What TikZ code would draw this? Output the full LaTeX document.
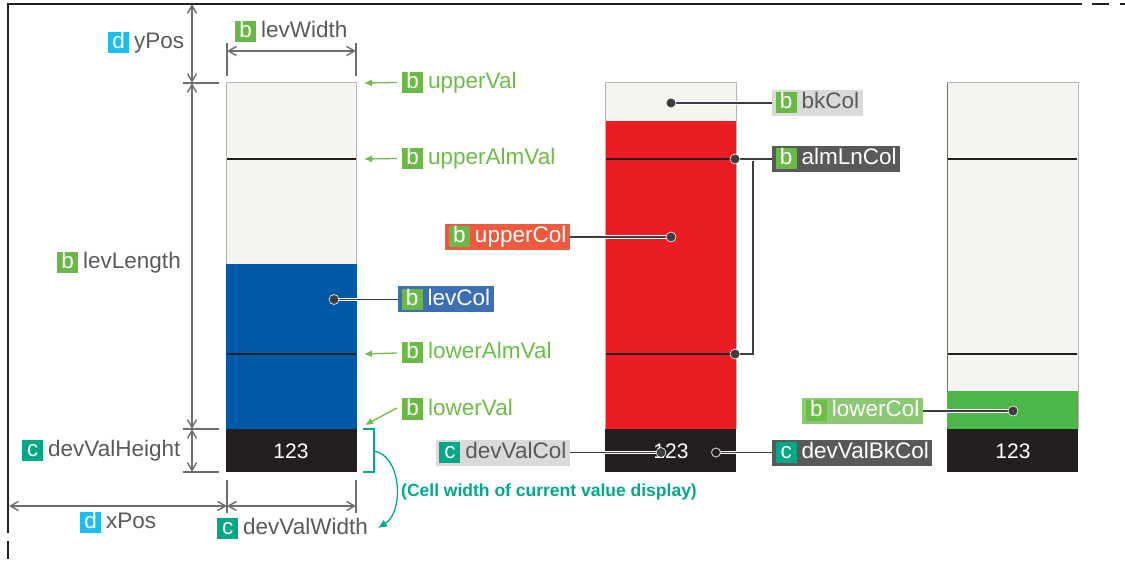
\documentclass[tikz,border=0pt]{standalone}
\usepackage{fontspec}
\setmainfont{Liberation Sans}
\usetikzlibrary{arrows.meta}
\definecolor{bgrn}{HTML}{6AB845}
\definecolor{cteal}{HTML}{00A886}
\definecolor{dcyan}{HTML}{1EBDEE}
\definecolor{txtgray}{HTML}{58595B}
\definecolor{dimgray}{HTML}{6D6E71}
\definecolor{lightbg}{HTML}{F4F5F0}
\definecolor{cellblk}{HTML}{231F20}
\definecolor{barblue}{HTML}{0058A8}
\definecolor{boxblue}{HTML}{3D6FB5}
\definecolor{barred}{HTML}{EC1C24}
\definecolor{boxorange}{HTML}{EF5A3E}
\definecolor{bargreen}{HTML}{4CB648}
\definecolor{boxlgreen}{HTML}{8CC874}
\definecolor{boxlgray}{HTML}{D9DADB}
\definecolor{boxdark}{HTML}{58595B}
\definecolor{condark}{HTML}{3E3E40}
\definecolor{grntxt}{HTML}{6CBD45}
\definecolor{annteal}{HTML}{00A98A}
\definecolor{bargrayline}{HTML}{B4B4B4}
\newcommand\bdg[2]{{\setlength{\fboxsep}{0pt}\colorbox{#1}{\makebox[21pt][c]{\rule[-4.5pt]{0pt}{21pt}\textcolor{white}{#2}}}}}
\newcommand\bb{\bdg{bgrn}{b}\hspace{5pt}}
\newcommand\cc{\bdg{cteal}{c}\hspace{5pt}}
\newcommand\dd{\bdg{dcyan}{d}\hspace{5pt}}
\tikzset{
  lbl/.style={inner sep=0pt, anchor=west, font=\fontsize{22.5}{25}\selectfont, text=txtgray},
  glbl/.style={lbl, text=grntxt},
  boxlbl/.style={inner xsep=3.5pt, inner ysep=2.5pt, font=\fontsize{22.5}{25}\selectfont, text=white},
  dimline/.style={draw=dimgray, line width=1.4pt},
  dimarr/.style={dimline, {Straight Barb[length=8pt,width=9pt]}-{Straight Barb[length=8pt,width=9pt]}},
  garrow/.style={draw=grntxt, line width=1.3pt, -{Latex[length=8pt,width=7pt]}},
  conn/.style={draw=white, double=condark, double distance=1.9pt, line width=0.6pt},
  cdot/.style={circle, fill=condark, draw=white, line width=0.6pt, minimum size=10pt, inner sep=0pt},
  hdot/.style={circle, fill=cellblk, draw=white!75!black, line width=1pt, minimum size=9pt, inner sep=0pt},
  alm/.style={draw=cellblk, line width=2pt},
  celltxt/.style={text=white, font=\fontsize{21}{24}\selectfont, inner sep=0pt},
  frame/.style={draw=cellblk, line width=2.2pt},
}
\begin{document}
\begin{tikzpicture}[x=1pt, y=-1pt]
\useasboundingbox (0,0) rectangle (1125,569);
% frame
\draw[frame] (8,533) -- (8,4) -- (1082,4);
\draw[frame] (1092,4) -- (1109,4);
\draw[frame] (1120,4) -- (1125,4);
\draw[frame] (8,541) -- (8,559);

% ---------- bar 1 ----------
\fill[lightbg] (226,83) rectangle (356,429);
\draw[bargrayline, line width=1pt] (226,429) -- (226,83) -- (356,83) -- (356,429);
\fill[barblue] (226,264) rectangle (356.5,429);
\fill[cellblk] (226,429) rectangle (356.5,472);
\draw[alm] (227,159) -- (356,159);
\draw[alm] (227,354) -- (356,354);
\node[celltxt] (v1) at (291,451) {123};

% ---------- bar 2 ----------
\fill[lightbg] (605,83) rectangle (736,429);
\draw[bargrayline, line width=1pt] (605,429) -- (605,83) -- (736,83) -- (736,429);
\fill[barred] (605.5,121) rectangle (735.5,429);
\fill[cellblk] (605,429) rectangle (736,472);
\draw[alm] (606,159) -- (735,159);
\draw[alm] (606,354) -- (735,354);
\node[celltxt] (v2) at (671,451) {123};

% ---------- bar 3 ----------
\fill[lightbg] (947,83) rectangle (1078,429);
\draw[bargrayline, line width=1pt] (947,83) -- (1078,83) -- (1078,429);
\draw[dimgray, line width=1pt] (947,83) -- (947,429);
\fill[bargreen] (947,391) rectangle (1078,429);
\fill[cellblk] (947,429) rectangle (1078,472);
\draw[alm] (948,159) -- (1077,159);
\draw[alm] (948,354) -- (1077,354);
\node[celltxt] (v3) at (1013,451) {123};

% ---------- dimensions ----------
\coordinate (yt) at (192,4);
\coordinate (y1) at (192,83);
\coordinate (y2) at (192,429);
\coordinate (y3) at (192,472);
\draw[dimarr] (yt) -- (y1);
\draw[dimarr] (y1) -- (y2);
\draw[dimarr] (y2) -- (y3);
\draw[dimline] (183,83) -- (219,83);
\draw[dimline] (183,429) -- (219,429);
\draw[dimline] (183,472) -- (219,472);

\coordinate (wl) at (227,51);
\coordinate (wr) at (356,51);
\draw[dimarr] (wl) -- (wr);
\draw[dimline] (227,43) -- (227,76);
\draw[dimline] (356,43) -- (356,76);

\coordinate (xl) at (9,506);
\coordinate (xm) at (227,506);
\coordinate (xr) at (356,506);
\draw[dimarr] (xl) -- (xm);
\draw[dimarr] (xm) -- (xr);
\draw[dimline] (227,480) -- (227,513);
\draw[dimline] (356,480) -- (356,513);

% dimension labels
\node[lbl] (yPos) at (108,43) {\dd yPos};
\node[lbl] (levWidth) at (235,32) {\bb levWidth};
\node[lbl] (levLength) at (57,263) {\bb levLength};
\node[lbl] (devValHeight) at (22,451) {\cc devValHeight};
\node[lbl] (xPos) at (80,522) {\dd xPos};
\node[lbl] (devValWidth) at (217,528) {\cc devValWidth};

% ---------- green pointer labels ----------
\node[glbl] (upperVal) at (402,82.5) {\bb upperVal};
\node[glbl] (upperAlmVal) at (402,158.5) {\bb upperAlmVal};
\node[glbl] (lowerAlmVal) at (402,353) {\bb lowerAlmVal};
\node[glbl] (lowerVal) at (402,409) {\bb lowerVal};
\coordinate (tUV) at (364,83);
\coordinate (tUAV) at (364,159);
\coordinate (tLAV) at (364,354);
\coordinate (tLV) at (365,425);
\draw[garrow] ([xshift=-5pt]upperVal.west) -- (tUV);
\draw[garrow] ([xshift=-5pt]upperAlmVal.west) -- (tUAV);
\draw[garrow] ([xshift=-5pt]lowerAlmVal.west) -- (tLAV);
\draw[garrow] ([xshift=-5pt,yshift=1pt]lowerVal.west) -- (tLV);

% ---------- colour labels ----------
\node[boxlbl, fill=boxblue, anchor=west] (levCol) at (398,299.5) {\bb levCol};
\node[boxlbl, fill=boxorange, anchor=east] (upperCol) at (570,237) {\bb upperCol};
\node[boxlbl, fill=boxlgray, text=txtgray, anchor=west] (bkCol) at (772,103) {\bb bkCol};
\node[boxlbl, fill=boxdark, anchor=west] (almLnCol) at (772,159) {\bb almLnCol};
\node[boxlbl, fill=boxlgray, text=txtgray, anchor=east] (devValCol) at (570,452.5) {\cc devValCol};
\node[boxlbl, fill=boxdark, anchor=west] (devValBkCol) at (772,452.5) {\cc devValBkCol};
\node[boxlbl, fill=boxlgreen, anchor=east] (lowerCol) at (923,411) {\bdg{grntxt}{b}\hspace{5pt}lowerCol};

\coordinate (dLev) at (334,299.5);
\coordinate (dUp) at (671,237);
\coordinate (dBk) at (671,103);
\coordinate (dAlm1) at (735,159);
\coordinate (dAlm2) at (735,354);
\coordinate (almK) at (753,161);
\coordinate (dDvc) at (661,452.5);
\coordinate (dDvb) at (716,452.5);
\coordinate (dLow) at (1013,411);

\draw[conn] (dLev) -- (levCol.west);
\draw[conn] (dUp) -- (upperCol.east);
\draw[conn] (dBk) -- (bkCol.west);
\draw[conn] (dAlm1) -- (almLnCol.west);
\draw[draw=condark, line width=1.9pt] (dAlm2) -| (almK);
\draw[conn] (dDvc) -- (devValCol.east);
\draw[conn] (dDvb) -- (devValBkCol.west);
\draw[conn] (dLow) -- (lowerCol.east);

\node[cdot] at (dLev) {};
\node[cdot] at (dUp) {};
\node[cdot] at (dBk) {};
\node[cdot] at (dAlm1) {};
\node[cdot] at (dAlm2) {};
\node[cdot] at (dDvc) {};
\node[hdot] at (dDvb) {};
\node[cdot] at (dLow) {};

% ---------- cell width annotation ----------
\coordinate (brM) at (374,451);
\coordinate (annT) at (378,528);
\draw[annteal, line width=1.5pt] (363,429) -- (374,429) -- (374,472) -- (363,472);
\draw[annteal, line width=1.3pt, -{Latex[length=9pt,width=8pt]}] (brM) .. controls (402,456) and (404,512) .. (annT);
\node[anchor=west, inner sep=0pt, text=annteal, font=\fontsize{17.5}{20}\selectfont\bfseries] (ann) at (401,492) {(Cell width of current value display)};
\end{tikzpicture}
\end{document}
